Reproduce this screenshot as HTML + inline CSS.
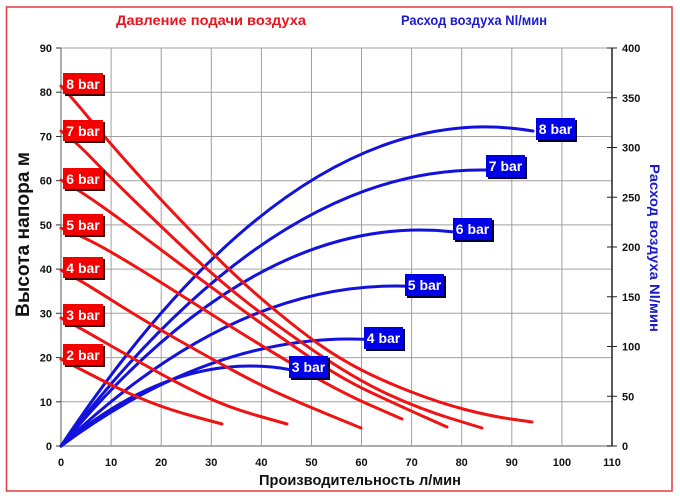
<!DOCTYPE html>
<html><head><meta charset="utf-8"><style>
html,body{margin:0;padding:0;background:#fff;}
svg{display:block;}
text{font-family:"Liberation Sans",Arial,sans-serif;font-weight:bold;}
</style></head><body>
<svg width="680" height="500" viewBox="0 0 680 500" xmlns="http://www.w3.org/2000/svg">
<rect x="0" y="0" width="680" height="500" fill="#fff"/>
<rect x="6.5" y="7" width="665.5" height="484" fill="none" stroke="#e23a40" stroke-width="1.5"/>

<!-- titles -->
<text x="116" y="25" font-size="14" fill="#e8141e" textLength="190" lengthAdjust="spacingAndGlyphs">Давление подачи воздуха</text>
<text x="401" y="25" font-size="14" fill="#1a1ad0" textLength="146" lengthAdjust="spacingAndGlyphs">Расход воздуха Nl/мин</text>

<!-- grid -->
<g stroke="#a0a0a0" stroke-width="1">
<line x1="111.1" y1="48" x2="111.1" y2="446"/>
<line x1="161.2" y1="48" x2="161.2" y2="446"/>
<line x1="211.3" y1="48" x2="211.3" y2="446"/>
<line x1="261.4" y1="48" x2="261.4" y2="446"/>
<line x1="311.5" y1="48" x2="311.5" y2="446"/>
<line x1="361.5" y1="48" x2="361.5" y2="446"/>
<line x1="411.6" y1="48" x2="411.6" y2="446"/>
<line x1="461.7" y1="48" x2="461.7" y2="446"/>
<line x1="511.8" y1="48" x2="511.8" y2="446"/>
<line x1="561.9" y1="48" x2="561.9" y2="446"/>
<line x1="61" y1="48" x2="612" y2="48"/>
<line x1="61" y1="92.2" x2="612" y2="92.2"/>
<line x1="61" y1="136.5" x2="612" y2="136.5"/>
<line x1="61" y1="180.7" x2="612" y2="180.7"/>
<line x1="61" y1="224.9" x2="612" y2="224.9"/>
<line x1="61" y1="269.1" x2="612" y2="269.1"/>
<line x1="61" y1="313.3" x2="612" y2="313.3"/>
<line x1="61" y1="357.6" x2="612" y2="357.6"/>
<line x1="61" y1="401.8" x2="612" y2="401.8"/>
</g>
<line x1="61" y1="446" x2="612" y2="446" stroke="#909090" stroke-width="1.5"/>
<line x1="61" y1="48" x2="61" y2="446" stroke="#909090" stroke-width="1.5"/>
<line x1="612" y1="48" x2="612" y2="446" stroke="#222" stroke-width="1.5"/>

<!-- left ticks -->
<g stroke="#333" stroke-width="1">
<line x1="56" y1="446" x2="61" y2="446"/><line x1="56" y1="401.8" x2="61" y2="401.8"/>
<line x1="56" y1="357.6" x2="61" y2="357.6"/><line x1="56" y1="313.3" x2="61" y2="313.3"/>
<line x1="56" y1="269.1" x2="61" y2="269.1"/><line x1="56" y1="224.9" x2="61" y2="224.9"/>
<line x1="56" y1="180.7" x2="61" y2="180.7"/><line x1="56" y1="136.5" x2="61" y2="136.5"/>
<line x1="56" y1="92.2" x2="61" y2="92.2"/><line x1="56" y1="48" x2="61" y2="48"/>
</g>
<g font-size="11" fill="#111" text-anchor="end">
<text x="52" y="450">0</text><text x="52" y="405.8">10</text><text x="52" y="361.6">20</text>
<text x="52" y="317.3">30</text><text x="52" y="273.1">40</text><text x="52" y="228.9">50</text>
<text x="52" y="184.7">60</text><text x="52" y="140.5">70</text><text x="52" y="96.2">80</text>
<text x="52" y="52">90</text>
</g>
<!-- right ticks -->
<g stroke="#222" stroke-width="1">
<line x1="607" y1="446" x2="617" y2="446"/><line x1="607" y1="396.25" x2="617" y2="396.25"/>
<line x1="607" y1="346.5" x2="617" y2="346.5"/><line x1="607" y1="296.75" x2="617" y2="296.75"/>
<line x1="607" y1="247" x2="617" y2="247"/><line x1="607" y1="197.25" x2="617" y2="197.25"/>
<line x1="607" y1="147.5" x2="617" y2="147.5"/><line x1="607" y1="97.75" x2="617" y2="97.75"/>
<line x1="607" y1="48" x2="617" y2="48"/>
</g>
<g font-size="11" fill="#111" text-anchor="start">
<text x="622" y="450">0</text><text x="622" y="400.25">50</text><text x="622" y="350.5">100</text>
<text x="622" y="300.75">150</text><text x="622" y="251">200</text><text x="622" y="201.25">250</text>
<text x="622" y="151.5">300</text><text x="622" y="101.75">350</text><text x="622" y="52">400</text>
</g>
<!-- x labels -->
<g font-size="11" fill="#111" text-anchor="middle">
<text x="61" y="466">0</text><text x="111.1" y="466">10</text><text x="161.2" y="466">20</text>
<text x="211.3" y="466">30</text><text x="261.4" y="466">40</text><text x="311.5" y="466">50</text>
<text x="361.5" y="466">60</text><text x="411.6" y="466">70</text><text x="461.7" y="466">80</text>
<text x="511.8" y="466">90</text><text x="561.9" y="466">100</text><text x="612" y="466">110</text>
</g>

<!-- axis titles -->
<text x="259" y="485" font-size="15" fill="#111" textLength="202" lengthAdjust="spacingAndGlyphs">Производительность л/мин</text>
<text transform="translate(29,317) rotate(-90)" x="0" y="0" font-size="19" fill="#111" textLength="165" lengthAdjust="spacingAndGlyphs">Высота напора м</text>
<text transform="translate(650,164) rotate(90)" x="0" y="0" font-size="14" fill="#1a1ad0" textLength="168" lengthAdjust="spacingAndGlyphs">Расход воздуха Nl/мин</text>

<!-- blue curves -->
<g fill="none" stroke="#1212dc" stroke-width="3" stroke-linecap="round">
<path d="M61,446 Q297,90.9 533,131"/>
<path d="M61,446 Q273.5,166.1 486,170"/>
<path d="M61,446 Q256.5,210.8 452,231.7"/>
<path d="M61,446 Q233,281.2 405,286.1"/>
<path d="M61,446 Q212.5,333.8 364,339.2"/>
<path d="M61,446 Q175.5,349.1 290,369.6"/>
</g>

<!-- red curves -->
<g fill="none" stroke="#ee1414" stroke-width="3" stroke-linecap="round">
<path d="M61,86 L67,92.5 Q73,99 88,117 Q103,135 121.5,156 Q140,177 160,198.5 Q180,220 210,250.5 Q240,281 270,306 Q300,331 320,345 Q340,359 361.5,370 Q383,381 411.5,392 Q440,403 465,409.5 Q490,416 511,419 L532,422"/>
<path d="M61,131 L70.5,138.5 Q80,146 91,157.5 Q102,169 127.5,194 Q153,219 185,249 Q217,279 248.5,303.5 Q280,328 318.5,354 Q357,380 388.5,394.5 Q420,409 451,418.5 L482,428"/>
<path d="M61,180 L72,186.5 Q83,193 101.5,206 Q120,219 160,249 Q200,279 235,304.5 Q270,330 305,354 Q340,378 370,392 Q400,406 423.5,416.5 L447,427"/>
<path d="M61,228 L75.5,234 Q90,240 110,251.5 Q130,263 165,285 Q200,307 230,326 Q260,345 300,368.5 Q340,392 371,405.5 L402,419"/>
<path d="M61,270 L72,276 Q83,282 113,301 Q143,320 176.5,339 Q210,358 235,371.5 Q260,385 280,394 Q300,403 330.5,415.5 L361,428"/>
<path d="M61,318 L70.5,323 Q80,328 103.5,341.5 Q127,355 152,369 Q177,383 202,395 Q227,407 257,415.5 L287,424"/>
<path d="M61,359 L69.5,363.5 Q78,368 102.5,380.5 Q127,393 148.5,401.5 Q170,410 196,417 L222,424"/>
</g>

<!-- red labels -->
<g font-size="14" fill="#fff" text-anchor="middle">
<rect x="65" y="75" width="40" height="21" fill="#3a0000"/><rect x="63" y="73" width="40" height="21" fill="#f50000"/><text x="83" y="89">8 bar</text>
<rect x="65" y="122" width="40" height="21" fill="#3a0000"/><rect x="63" y="120" width="40" height="21" fill="#f50000"/><text x="83" y="136">7 bar</text>
<rect x="65" y="170" width="40" height="21" fill="#3a0000"/><rect x="63" y="168" width="40" height="21" fill="#f50000"/><text x="83" y="184">6 bar</text>
<rect x="65" y="216" width="40" height="21" fill="#3a0000"/><rect x="63" y="214" width="40" height="21" fill="#f50000"/><text x="83" y="230">5 bar</text>
<rect x="65" y="259" width="40" height="21" fill="#3a0000"/><rect x="63" y="257" width="40" height="21" fill="#f50000"/><text x="83" y="273">4 bar</text>
<rect x="65" y="306" width="40" height="21" fill="#3a0000"/><rect x="63" y="304" width="40" height="21" fill="#f50000"/><text x="83" y="320">3 bar</text>
<rect x="65" y="346" width="40" height="21" fill="#3a0000"/><rect x="63" y="344" width="40" height="21" fill="#f50000"/><text x="83" y="360">2 bar</text>
</g>
<!-- blue labels -->
<g font-size="14" fill="#fff" text-anchor="middle">
<rect x="538" y="120" width="39" height="22" fill="#000030"/><rect x="536" y="118" width="39" height="22" fill="#0000e6"/><text x="555.5" y="134">8 bar</text>
<rect x="488" y="157" width="39" height="22" fill="#000030"/><rect x="486" y="155" width="39" height="22" fill="#0000e6"/><text x="505.5" y="171">7 bar</text>
<rect x="455" y="220" width="39" height="22" fill="#000030"/><rect x="453" y="218" width="39" height="22" fill="#0000e6"/><text x="472.5" y="234">6 bar</text>
<rect x="407" y="276" width="39" height="22" fill="#000030"/><rect x="405" y="274" width="39" height="22" fill="#0000e6"/><text x="424.5" y="290">5 bar</text>
<rect x="366" y="329" width="39" height="22" fill="#000030"/><rect x="364" y="327" width="39" height="22" fill="#0000e6"/><text x="383.5" y="343">4 bar</text>
<rect x="291" y="358" width="39" height="22" fill="#000030"/><rect x="289" y="356" width="39" height="22" fill="#0000e6"/><text x="308.5" y="372">3 bar</text>
</g>
</svg>
</body></html>
